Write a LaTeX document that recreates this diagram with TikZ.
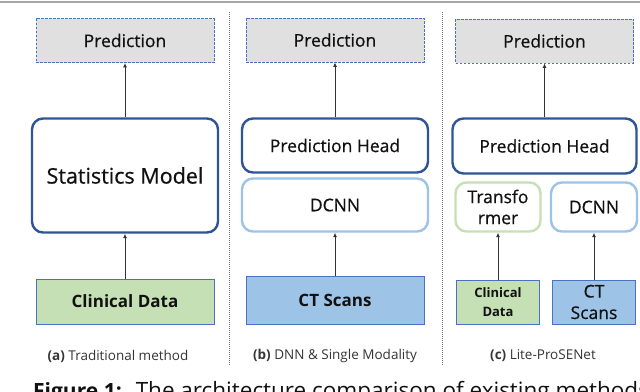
\documentclass[tikz,border=0pt]{standalone}
\usepackage{fontspec}
\setmainfont{Open Sans}
\newfontfamily\medfont{Open Sans}[FakeBold=0.6]
\usetikzlibrary{arrows.meta}
\definecolor{predfill}{HTML}{E0E0E0}
\definecolor{dashblue}{HTML}{4A72BE}
\definecolor{darkblue}{HTML}{2F5597}
\definecolor{lightblue}{HTML}{9DC3E6}
\definecolor{lightgreen}{HTML}{C5E0B4}
\definecolor{edgeblue}{HTML}{4A72C0}
\definecolor{txt}{HTML}{111111}
\tikzset{
  midfont/.style={font=\medfont\fontsize{17.5}{21}\selectfont},
  predbox/.style={draw=dashblue, fill=predfill, line width=0.9pt, dash pattern=on 2.6pt off 1.4pt,
    minimum width=178pt, minimum height=44pt, inner sep=0pt, midfont, text=txt},
  darkrnd/.style={draw=darkblue, fill=white, line width=2.4pt, rounded corners=11pt, inner sep=0pt, text=txt},
  bluernd/.style={draw=lightblue, fill=white, line width=2.4pt, rounded corners=11pt, inner sep=0pt, text=txt},
  greenrnd/.style={draw=lightgreen, fill=white, line width=2.4pt, rounded corners=11pt, inner sep=0pt, text=txt},
  greendata/.style={draw=edgeblue, fill=lightgreen, line width=1pt, inner sep=0pt, text=txt},
  bluedata/.style={draw=edgeblue, fill=lightblue, line width=1pt, inner sep=0pt, text=txt},
  arr/.style={draw=black!80, line width=1pt, -{Latex[length=4.5pt,width=4pt]}},
  divider/.style={draw=black!55, line width=0.9pt, dash pattern=on 1pt off 1pt},
  capt/.style={font=\fontsize{13.5}{16}\selectfont, text=txt!85, inner sep=0pt},
}
\begin{document}
\begin{tikzpicture}[x=1pt,y=-1pt]
\useasboundingbox (0,0) rectangle (640,391);
\clip (0,0) rectangle (640,391);
\fill[white] (0,0) rectangle (640,391);
% top rule
\draw[line width=1.5pt, draw=black!35] (0,2) -- (640,2);
% dividers
\coordinate (d1t) at (229,12); \coordinate (d1b) at (229,366);
\coordinate (d2t) at (442,12); \coordinate (d2b) at (442,366);
\draw[divider] (d1t) -- (d1b);
\draw[divider] (d2t) -- (d2b);

% ---- panel a
\node[predbox] (predA) at (125,40.5) {Prediction};
\node[darkrnd, minimum width=186pt, minimum height=114pt, font=\medfont\fontsize{21.5}{25}\selectfont] (statA) at (125,175.5) {Statistics Model};
\node[greendata, minimum width=178pt, minimum height=45pt, font=\bfseries\fontsize{17}{20}\selectfont] (clinA) at (125,301.5) {Clinical Data};
\draw[arr] (statA) -- (predA);
\draw[arr] (clinA) -- (statA);
\node[capt] (capA) at (118,356) {\textbf{(a)} Traditional method};

% ---- panel b
\node[predbox] (predB) at (335,40) {Prediction};
\node[darkrnd, minimum width=186pt, minimum height=54pt, midfont] (headB) at (335,145.5) {Prediction Head};
\node[bluernd, minimum width=186pt, minimum height=53pt, midfont] (dcnnB) at (335,205) {DCNN};
\node[bluedata, minimum width=178pt, minimum height=48pt, font=\bfseries\fontsize{17}{20}\selectfont] (ctB) at (335,300) {CT Scans};
\draw[arr] (headB) -- (predB);
\draw[arr] (ctB) -- (dcnnB);
\node[capt] (capB) at (335,356) {\textbf{(b)} DNN \& Single Modality};

% ---- panel c
\node[predbox] (predC) at (544.5,41) {Prediction};
\node[darkrnd, minimum width=184pt, minimum height=55pt, midfont] (headC) at (544.5,146) {Prediction Head};
\node[greenrnd, minimum width=85pt, minimum height=49pt, font=\medfont\fontsize{17.5}{21}\selectfont, align=center] (transC) at (498,207) {Transfo\\rmer};
\node[bluernd, minimum width=86pt, minimum height=49pt, midfont] (dcnnC) at (594,207) {DCNN};
\node[greendata, minimum width=83pt, minimum height=44pt, font=\bfseries\fontsize{13}{19}\selectfont, align=center] (clinC) at (498,302) {Clinical\\Data};
\node[bluedata, minimum width=83pt, minimum height=44pt, font=\medfont\fontsize{17.5}{21.5}\selectfont, align=center] (ctC) at (594,302) {CT\\Scans};
\draw[arr] (headC) -- (predC);
\draw[arr] (clinC) -- (transC);
\draw[arr] (ctC) -- (dcnnC);
\node[capt] (capC) at (543,356) {\textbf{(c)} Lite-ProSENet};

% ---- cut-off figure caption
\node[anchor=base west, inner sep=0pt, text=txt, font=\fontsize{22}{26}\selectfont] (figcap) at (33,398) {\fontsize{21}{26}\selectfont\textbf{Figure 1:}\hspace{14pt}\fontsize{22.5}{26}\selectfont The architecture comparison of existing methods};
\end{tikzpicture}
\end{document}
